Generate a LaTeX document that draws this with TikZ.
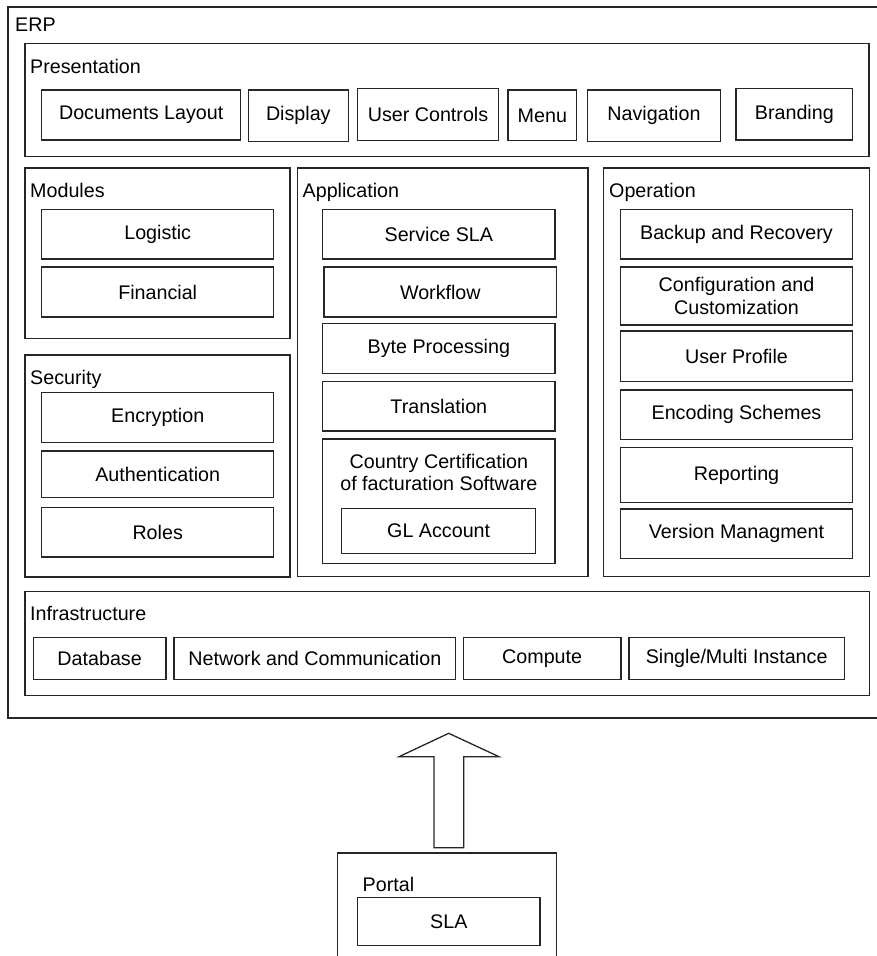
\documentclass[tikz,border=0pt]{standalone}
\usepackage{fontspec}
\setmainfont{Liberation Sans}
\begin{document}
\begin{tikzpicture}[x=1pt,y=-1pt,
  bx/.style={draw=black!85, line width=1.3pt, inner sep=0pt, align=center,
    font=\fontsize{19.7}{22.5}\selectfont},
  lbl/.style={inner sep=0pt, anchor=base west, font=\fontsize{19.7}{22.5}\selectfont},
  frame/.style={draw=black!85, line width=1.3pt}]
\useasboundingbox (0,0) rectangle (876,956);
\newcommand{\bx}[6]{\node[bx, minimum width={#4-#2}, minimum height={#5-#3}] (#1) at ({(#2+#4)/2},{(#3+#5)/2}) {#6};}
% ERP
\bx{erp}{8}{7}{885}{718}{}
\node[lbl] (erpL) at (15,31.7) {ERP};
% Presentation
\bx{pres}{25}{43.7}{869}{156.3}{}
\node[lbl] (presL) at (30,73.3) {Presentation};
\bx{doc}{41.7}{90}{240.7}{140}{Documents Layout}
\bx{disp}{248.3}{90}{348.3}{141.7}{Display}
\bx{uc}{357.3}{88.7}{498.7}{140.3}{User Controls}
\bx{menu}{508}{90}{576.7}{140.7}{Menu}
\bx{nav}{587.3}{90}{720.7}{141.7}{Navigation}
\bx{brand}{736}{88.7}{852.7}{140}{Branding}
% Modules
\bx{mod}{25}{168}{290}{338.7}{}
\node[lbl] (modL) at (30,197.3) {Modules};
\bx{log}{41.7}{209.3}{273.7}{259}{Logistic}
\bx{fin}{41.7}{267}{273.7}{317}{Financial}
% Security
\bx{sec}{25}{355}{290}{577}{}
\node[lbl] (secL) at (30,384) {Security};
\bx{enc}{41.7}{392.7}{273.7}{442.7}{Encryption}
\bx{auth}{41.7}{451}{273.7}{497.7}{Authentication}
\bx{roles}{41.7}{507.3}{273.7}{557}{Roles}
% Application
\bx{app}{297.7}{168}{588}{576.7}{}
\node[lbl] (appL) at (302.5,197.3) {Application};
\bx{ssla}{322.7}{209.3}{555}{259}{Service SLA}
\bx{wf}{324}{267}{556.7}{317}{Workflow}
\bx{byte}{322.7}{323.3}{555}{373.3}{Byte Processing}
\bx{trans}{322.7}{381.7}{555}{431}{Translation}
\bx{cc}{322.7}{439}{555}{563.3}{}
\node[inner sep=0pt, align=center, anchor=base, font=\fontsize{19.7}{22.4}\selectfont] (ccL) at (438.85,490.7) {Country Certification\\of facturation Software};
\bx{gl}{341.7}{508.3}{535.7}{553.3}{GL Account}
% Operation
\bx{op}{603.7}{168}{869.3}{576.7}{}
\node[lbl] (opL) at (609,197.3) {Operation};
\bx{bak}{620.3}{209.3}{852.7}{259}{Backup and Recovery}
\bx{conf}{620.3}{267}{852.7}{325}{Configuration and\\Customization}
\bx{up}{620.3}{331}{852.7}{381.7}{User Profile}
\bx{encs}{620.3}{390}{852.7}{439.3}{Encoding Schemes}
\bx{rep}{620.3}{447.7}{852.7}{502.7}{Reporting}
\bx{ver}{620.3}{509}{852.7}{558.7}{Version Managment}
% Infrastructure
\bx{inf}{25}{591.7}{869.3}{695.7}{}
\node[lbl] (infL) at (30,620.7) {Infrastructure};
\bx{db}{33.3}{637.7}{166}{679.3}{Database}
\bx{net}{174}{637.7}{455.7}{679.3}{Network and Communication}
\bx{comp}{463.3}{637.7}{621}{679.3}{Compute}
\bx{single}{629}{637.7}{844.3}{679.3}{Single/Multi Instance}
% Portal
\bx{portal}{337.7}{853}{556.7}{965}{}
\node[lbl] (portL) at (362.5,891.7) {Portal};
\bx{sla}{357.7}{897.7}{540}{945.7}{SLA}
% Block arrow from Portal up to ERP
\draw[frame, line join=miter] (434,847.7) -- (434,756.7) -- (399,756.7) -- (448.7,733.3)
  -- (499,756.7) -- (463.7,756.7) -- (463.7,847.7) -- cycle;
\end{tikzpicture}
\end{document}
